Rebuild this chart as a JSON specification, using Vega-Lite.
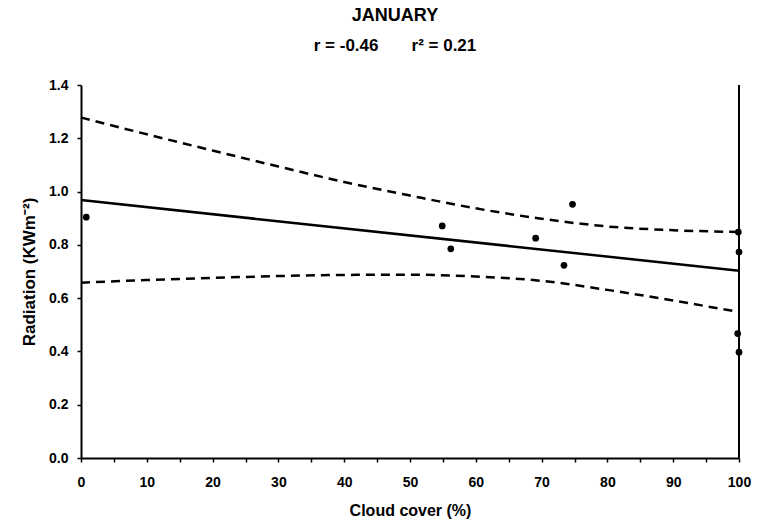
{
  "$schema": "https://vega.github.io/schema/vega-lite/v6.json",
  "width": 658,
  "height": 373,
  "autosize": {"type": "none"},
  "padding": {"left": 81, "top": 85, "right": 20, "bottom": 67},
  "background": "white",
  "config": {
    "view": {"stroke": null},
    "font": "Liberation Sans"
  },
  "title": {
    "text": "JANUARY",
    "subtitle": "r = -0.46\u00a0\u00a0\u00a0\u00a0\u00a0\u00a0\u00a0r² = 0.21",
    "anchor": "middle",
    "dx": -15,
    "font": "Liberation Sans",
    "fontSize": 18,
    "fontWeight": "bold",
    "color": "black",
    "subtitleFont": "Liberation Sans",
    "subtitleFontSize": 17,
    "subtitleFontWeight": "bold",
    "subtitleColor": "black",
    "subtitlePadding": 13,
    "offset": 24
  },
  "datasets": {
    "points": [
      {"cloud": 0.8, "rad": 0.904},
      {"cloud": 54.9, "rad": 0.871},
      {"cloud": 56.2, "rad": 0.785},
      {"cloud": 69.1, "rad": 0.825},
      {"cloud": 74.7, "rad": 0.952},
      {"cloud": 73.4, "rad": 0.723},
      {"cloud": 99.9, "rad": 0.848},
      {"cloud": 100, "rad": 0.773},
      {"cloud": 99.8, "rad": 0.467},
      {"cloud": 100, "rad": 0.397}
    ],
    "fit": [
      {"cloud": 0, "rad": 0.968},
      {"cloud": 100, "rad": 0.703}
    ],
    "band": [
      {"cloud": 0, "upper": 1.278, "lower": 0.658},
      {"cloud": 10, "upper": 1.215, "lower": 0.668},
      {"cloud": 20, "upper": 1.154, "lower": 0.676},
      {"cloud": 30, "upper": 1.094, "lower": 0.683},
      {"cloud": 40, "upper": 1.036, "lower": 0.687},
      {"cloud": 50, "upper": 0.985, "lower": 0.688},
      {"cloud": 60, "upper": 0.937, "lower": 0.681},
      {"cloud": 70, "upper": 0.898, "lower": 0.665},
      {"cloud": 80, "upper": 0.869, "lower": 0.631},
      {"cloud": 90, "upper": 0.855, "lower": 0.591},
      {"cloud": 100, "upper": 0.848, "lower": 0.548}
    ],
    "frame": [
      {"cloud": 100, "y0": 0, "y1": 1.4}
    ]
  },
  "encoding": {
    "x": {
      "field": "cloud",
      "type": "quantitative",
      "scale": {"domain": [0, 100], "nice": false},
      "axis": {
        "title": "Cloud cover (%)",
        "values": [0,5,10,15,20,25,30,35,40,45,50,55,60,65,70,75,80,85,90,95,100],
        "labelExpr": "datum.value % 10 === 0 ? datum.label : ''",
        "grid": false,
        "domainColor": "black",
        "domainWidth": 2,
        "tickColor": "black",
        "tickWidth": 1.5,
        "tickSize": 4,
        "labelColor": "black",
        "labelFont": "Liberation Sans",
        "labelFontSize": 14,
        "labelFontWeight": "bold",
        "labelPadding": 13,
        "labelFlush": false,
        "titleColor": "black",
        "titleFont": "Liberation Sans",
        "titleFontSize": 16,
        "titleFontWeight": "bold",
        "titlePadding": 13
      }
    }
  },
  "layer": [
    {
      "data": {"name": "band"},
      "mark": {"type": "line", "color": "black", "strokeWidth": 2.5, "strokeDash": [9, 6], "interpolate": "monotone"},
      "encoding": {
        "y": {
          "field": "upper",
          "type": "quantitative",
          "scale": {"domain": [0, 1.4], "nice": false},
          "axis": {
            "title": "Radiation (KWm⁻²)",
            "values": [0,0.1,0.2,0.3,0.4,0.5,0.6,0.7,0.8,0.9,1.0,1.1,1.2,1.3,1.4],
            "format": ".1f",
            "labelExpr": "round(datum.value * 10) % 2 === 0 ? datum.label : ''",
            "grid": false,
            "domainColor": "black",
            "domainWidth": 2,
            "tickColor": "black",
            "tickWidth": 1.5,
            "tickSize": 4,
            "labelColor": "black",
            "labelFont": "Liberation Sans",
            "labelFontSize": 14,
            "labelFontWeight": "bold",
            "labelPadding": 9,
            "labelFlush": false,
            "titleColor": "black",
            "titleFont": "Liberation Sans",
            "titleFontSize": 17,
            "titleFontWeight": "bold",
            "titlePadding": 10
          }
        }
      }
    },
    {
      "data": {"name": "band"},
      "mark": {"type": "line", "color": "black", "strokeWidth": 2.5, "strokeDash": [9, 6], "interpolate": "monotone"},
      "encoding": {"y": {"field": "lower", "type": "quantitative"}}
    },
    {
      "data": {"name": "fit"},
      "mark": {"type": "line", "color": "black", "strokeWidth": 2.5},
      "encoding": {"y": {"field": "rad", "type": "quantitative"}}
    },
    {
      "data": {"name": "frame"},
      "mark": {"type": "rule", "color": "black", "strokeWidth": 2},
      "encoding": {
        "y": {"field": "y0", "type": "quantitative"},
        "y2": {"field": "y1"}
      }
    },
    {
      "data": {"name": "points"},
      "mark": {"type": "circle", "color": "black", "opacity": 1, "size": 45},
      "encoding": {"y": {"field": "rad", "type": "quantitative"}}
    }
  ]
}
